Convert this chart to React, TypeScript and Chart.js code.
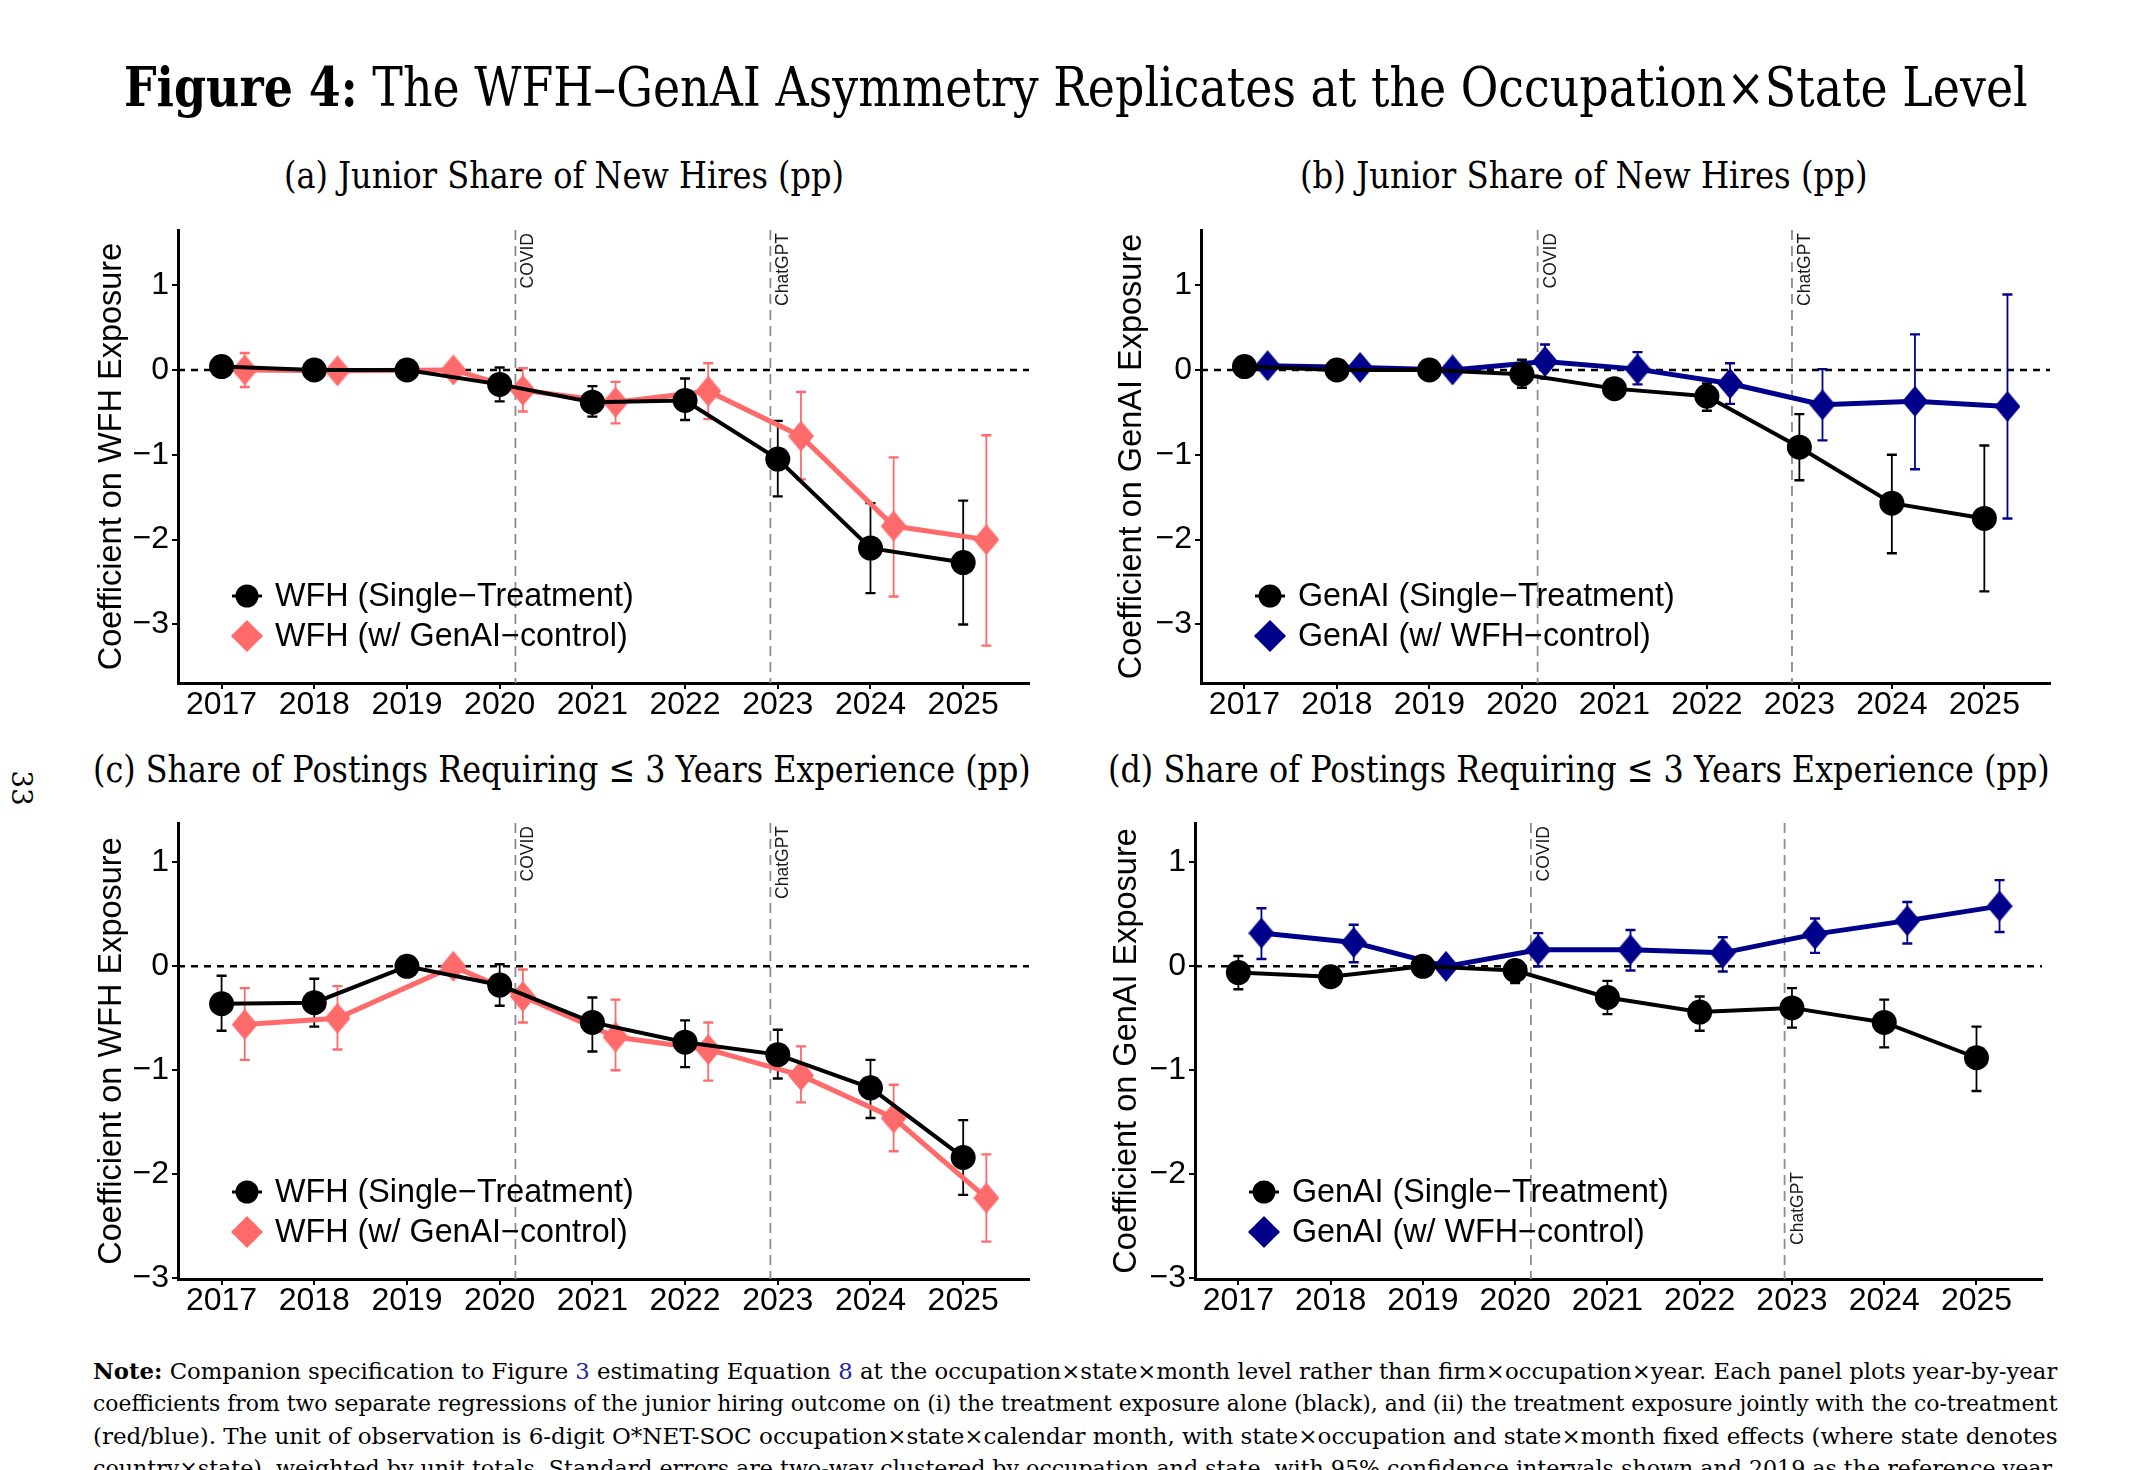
import React, { useEffect, useLayoutEffect, useRef } from 'react';
import { Chart, registerables } from 'chart.js';

Chart.register(...registerables);

// ---------------- data ----------------
const YEARS = [2017, 2018, 2019, 2020, 2021, 2022, 2023, 2024, 2025];
const X_DODGE_WIDE = [2017.25, 2018.25, 2019.5, 2020.25, 2021.25, 2022.25, 2023.25, 2024.25, 2025.25];
const X_DODGE = [2017.25, 2018.25, 2019.25, 2020.25, 2021.25, 2022.25, 2023.25, 2024.25, 2025.25];
const Y_TICKS = [-3, -2, -1, 0, 1];
const COVID_X = 2020.17;
const CHATGPT_X = 2022.92;

// (a) WFH, junior share of new hires
const A_SINGLE = [0.04, 0.0, 0.0, -0.17, -0.38, -0.36, -1.05, -2.1, -2.27];
const A_SINGLE_LO = [-0.02, -0.05, 0.0, -0.37, -0.55, -0.59, -1.49, -2.63, -3.0];
const A_SINGLE_HI = [0.1, 0.05, 0.0, 0.03, -0.19, -0.1, -0.6, -1.57, -1.54];
const A_CTRL = [0.0, -0.01, 0.0, -0.24, -0.38, -0.25, -0.78, -1.84, -2.0];
const A_CTRL_LO = [-0.2, -0.06, -0.03, -0.49, -0.63, -0.58, -1.29, -2.67, -3.25];
const A_CTRL_HI = [0.2, 0.04, 0.03, 0.02, -0.14, 0.08, -0.26, -1.03, -0.77];

// (b) GenAI, junior share of new hires
const B_SINGLE = [0.04, 0.0, 0.0, -0.05, -0.22, -0.31, -0.91, -1.57, -1.75];
const B_SINGLE_LO = [0.0, -0.04, 0.0, -0.21, -0.27, -0.48, -1.3, -2.16, -2.61];
const B_SINGLE_HI = [0.08, 0.04, 0.0, 0.12, -0.17, -0.16, -0.52, -1.0, -0.89];
const B_CTRL = [0.05, 0.03, 0.0, 0.1, 0.01, -0.16, -0.41, -0.37, -0.43];
const B_CTRL_LO = [0.0, -0.02, 0.0, -0.1, -0.17, -0.4, -0.83, -1.17, -1.75];
const B_CTRL_HI = [0.1, 0.08, 0.0, 0.3, 0.21, 0.08, 0.01, 0.42, 0.89];

// (c) WFH, share of postings requiring <= 3 years
const C_SINGLE = [-0.36, -0.35, 0.0, -0.18, -0.54, -0.73, -0.85, -1.17, -1.84];
const C_SINGLE_LO = [-0.62, -0.58, 0.0, -0.38, -0.82, -0.97, -1.08, -1.46, -2.2];
const C_SINGLE_HI = [-0.09, -0.12, 0.0, 0.02, -0.3, -0.52, -0.61, -0.9, -1.48];
const C_CTRL = [-0.56, -0.5, 0.0, -0.29, -0.68, -0.8, -1.05, -1.46, -2.23];
const C_CTRL_LO = [-0.9, -0.8, -0.03, -0.54, -1.0, -1.1, -1.31, -1.78, -2.65];
const C_CTRL_HI = [-0.21, -0.19, 0.03, -0.03, -0.32, -0.54, -0.77, -1.14, -1.81];

// (d) GenAI, share of postings requiring <= 3 years
const D_SINGLE = [-0.06, -0.1, 0.0, -0.04, -0.3, -0.44, -0.4, -0.54, -0.88];
const D_SINGLE_LO = [-0.22, -0.14, 0.0, -0.16, -0.46, -0.62, -0.59, -0.78, -1.2];
const D_SINGLE_HI = [0.1, -0.06, 0.0, 0.06, -0.14, -0.29, -0.21, -0.32, -0.58];
const D_CTRL = [0.32, 0.23, 0.0, 0.16, 0.16, 0.13, 0.31, 0.44, 0.58];
const D_CTRL_LO = [0.07, 0.04, 0.0, 0.0, -0.04, -0.05, 0.13, 0.22, 0.33];
const D_CTRL_HI = [0.56, 0.4, 0.0, 0.32, 0.35, 0.28, 0.46, 0.62, 0.83];

// ---------------- styles ----------------
const BLACK = '#000000';
const RED = '#FF6A6A';
const NAVY = '#00008B';
const SANS = '"Liberation Sans", Arial, sans-serif';
const SERIF = '"DejaVu Serif", serif';

type Series = {
  label: string;
  x: number[];
  y: number[];
  lo: number[];
  hi: number[];
  color: string;
  marker: 'circle' | 'diamond';
  lineWidth: number;
};
type EventMark = { x: number; label: string; endY?: number };

type PanelProps = {
  left: number;
  top: number;
  width: number;
  height: number;
  yWidth: number;
  xHeight: number;
  padTop: number;
  padRight: number;
  yMin: number;
  yMax: number;
  yTitle: string;
  series: Series[];
  events: EventMark[];
};

function makeDiamond(w: number, h: number, color: string): HTMLCanvasElement {
  const c = document.createElement('canvas');
  c.width = w;
  c.height = h;
  const g = c.getContext('2d')!;
  g.fillStyle = color;
  g.beginPath();
  g.moveTo(w / 2, 0);
  g.lineTo(w, h / 2);
  g.lineTo(w / 2, h);
  g.lineTo(0, h / 2);
  g.closePath();
  g.fill();
  return c;
}

const fmtY = (v: number) => (v < 0 ? '\u2212' + Math.abs(v) : String(v));

function Panel(p: PanelProps) {
  const ref = useRef<HTMLCanvasElement>(null);
  useEffect(() => {
    const canvas = ref.current;
    if (!canvas) return;
    const datasets = p.series.map((s) => ({
      type: 'line' as const,
      label: s.label,
      data: s.x.map((x, i) => ({ x, y: s.y[i] })),
      borderColor: s.color,
      backgroundColor: s.color,
      borderWidth: s.lineWidth,
      pointStyle: s.marker === 'circle' ? 'circle' : makeDiamond(26, 31, s.color),
      pointRadius: s.marker === 'circle' ? 12.5 : 15,
      pointBorderWidth: 0,
      pointBackgroundColor: s.color,
      pointBorderColor: s.color,
      tension: 0,
      clip: false as const,
    }));

    const decor = {
      id: 'decor',
      beforeDatasetsDraw(chart: any) {
        const { ctx, chartArea: a } = chart;
        const xs = chart.scales.x;
        const ys = chart.scales.y;
        ctx.save();
        // event lines
        ctx.strokeStyle = '#8c8c8c';
        ctx.lineWidth = 1.8;
        ctx.setLineDash([10, 6]);
        for (const ev of p.events) {
          const px = xs.getPixelForValue(ev.x);
          ctx.beginPath();
          ctx.moveTo(px, a.top);
          ctx.lineTo(px, a.bottom);
          ctx.stroke();
        }
        // zero line
        const y0 = ys.getPixelForValue(0);
        ctx.strokeStyle = '#000';
        ctx.lineWidth = 2.5;
        ctx.setLineDash([7, 6]);
        ctx.beginPath();
        ctx.moveTo(a.left, y0);
        ctx.lineTo(a.right, y0);
        ctx.stroke();
        ctx.setLineDash([]);
        // event labels
        ctx.fillStyle = '#1a1a1a';
        ctx.font = '17.5px ' + SANS;
        for (const ev of p.events) {
          const px = xs.getPixelForValue(ev.x);
          const endPx = ev.endY === undefined ? a.top + 3 : ys.getPixelForValue(ev.endY);
          ctx.save();
          ctx.translate(px + 18, endPx);
          ctx.rotate(-Math.PI / 2);
          ctx.textAlign = 'right';
          ctx.textBaseline = 'alphabetic';
          ctx.fillText(ev.label, 0, 0);
          ctx.restore();
        }
        // error bars (drawn in reverse so black is above)
        for (let k = p.series.length - 1; k >= 0; k--) {
          const s = p.series[k];
          ctx.strokeStyle = s.color;
          s.x.forEach((xv, i) => {
            if (s.lo[i] === s.hi[i]) return;
            const px = xs.getPixelForValue(xv);
            const pl = ys.getPixelForValue(s.lo[i]);
            const ph = ys.getPixelForValue(s.hi[i]);
            ctx.lineWidth = 1.8;
            ctx.beginPath();
            ctx.moveTo(px, pl);
            ctx.lineTo(px, ph);
            ctx.stroke();
            ctx.lineWidth = 2.4;
            ctx.beginPath();
            ctx.moveTo(px - 5, pl);
            ctx.lineTo(px + 5, pl);
            ctx.moveTo(px - 5, ph);
            ctx.lineTo(px + 5, ph);
            ctx.stroke();
          });
        }
        ctx.restore();
      },
      afterDraw(chart: any) {
        const { ctx, chartArea: a } = chart;
        ctx.save();
        const cx = a.left + 69;
        p.series.forEach((s, i) => {
          const cy = a.bottom - 87 + i * 40;
          ctx.fillStyle = s.color;
          ctx.strokeStyle = s.color;
          ctx.lineWidth = 3;
          ctx.beginPath();
          ctx.moveTo(cx - 15, cy);
          ctx.lineTo(cx + 15, cy);
          ctx.stroke();
          if (s.marker === 'circle') {
            ctx.beginPath();
            ctx.arc(cx, cy, 11.5, 0, Math.PI * 2);
            ctx.fill();
          } else {
            ctx.beginPath();
            ctx.moveTo(cx, cy - 16);
            ctx.lineTo(cx + 16, cy);
            ctx.lineTo(cx, cy + 16);
            ctx.lineTo(cx - 16, cy);
            ctx.closePath();
            ctx.fill();
          }
          ctx.fillStyle = '#000';
          ctx.font = '32.3px ' + SANS;
          ctx.textAlign = 'left';
          ctx.textBaseline = 'middle';
          ctx.fillText(s.label, a.left + 97, cy + 1);
        });
        ctx.restore();
      },
    };

    const gridCommon = {
      display: true,
      drawOnChartArea: false,
      drawTicks: true,
      tickLength: 6,
      color: '#000',
      lineWidth: 2,
    };
    const borderCommon = { display: true, color: '#000', width: 3 };

    const chart = new Chart(canvas, {
      type: 'line',
      data: { datasets: datasets as any },
      options: {
        responsive: false,
        animation: false,
        devicePixelRatio: 1,
        events: [],
        layout: { padding: { top: p.padTop, right: p.padRight, left: 0, bottom: 0 } },
        plugins: { legend: { display: false }, tooltip: { enabled: false }, title: { display: false } },
        scales: {
          x: {
            type: 'linear',
            min: 2016.53,
            max: 2025.71,
            afterBuildTicks: (s: any) => {
              s.ticks = YEARS.map((v) => ({ value: v }));
            },
            afterFit: (s: any) => {
              s.height = p.xHeight;
            },
            ticks: {
              font: { size: 32, family: SANS, lineHeight: 1 },
              color: '#000',
              padding: 0,
              maxRotation: 0,
              autoSkip: false,
              callback: (v: any) => String(v),
            },
            grid: gridCommon,
            border: borderCommon,
          },
          y: {
            type: 'linear',
            min: p.yMin,
            max: p.yMax,
            afterBuildTicks: (s: any) => {
              s.ticks = Y_TICKS.map((v) => ({ value: v }));
            },
            afterFit: (s: any) => {
              s.width = p.yWidth;
            },
            ticks: {
              font: { size: 32, family: SANS, lineHeight: 1 },
              color: '#000',
              padding: 3,
              callback: (v: any) => fmtY(Number(v)),
            },
            title: {
              display: true,
              text: p.yTitle,
              font: { size: 32.5, family: SANS, lineHeight: 1.2 },
              color: '#000',
              padding: 0,
            },
            grid: gridCommon,
            border: borderCommon,
          },
        },
      } as any,
      plugins: [decor],
    });
    return () => chart.destroy();
  }, []);
  return (
    <canvas
      ref={ref}
      width={p.width}
      height={p.height}
      style={{ position: 'absolute', left: p.left, top: p.top, width: p.width, height: p.height }}
    />
  );
}

function FitText(props: {
  x?: number;
  cx?: number;
  cy: number;
  width: number;
  size: number;
  family?: string;
  children: React.ReactNode;
}) {
  const ref = useRef<HTMLDivElement>(null);
  useLayoutEffect(() => {
    const el = ref.current;
    if (!el) return;
    const w = el.offsetWidth;
    if (w > 0) el.style.transform = `scaleX(${props.width / w})`;
  }, [props.width]);
  const left = props.x !== undefined ? props.x : (props.cx as number) - props.width / 2;
  return (
    <div
      ref={ref}
      style={{
        position: 'absolute',
        left,
        top: props.cy - props.size * 0.6,
        fontFamily: props.family || SERIF,
        fontSize: props.size,
        lineHeight: `${props.size * 1.2}px`,
        whiteSpace: 'nowrap',
        transformOrigin: '0 50%',
        color: '#000',
      }}
    >
      {props.children}
    </div>
  );
}

const LINK = { color: '#2323a3' };

export default function App() {
  const wfhSeries = (y: number[], lo: number[], hi: number[], cy: number[], clo: number[], chi: number[], cx: number[]): Series[] => [
    { label: 'WFH (Single\u2212Treatment)', x: YEARS, y, lo, hi, color: BLACK, marker: 'circle', lineWidth: 4 },
    { label: 'WFH (w/ GenAI\u2212control)', x: cx, y: cy, lo: clo, hi: chi, color: RED, marker: 'diamond', lineWidth: 5 },
  ];
  const genSeries = (y: number[], lo: number[], hi: number[], cy: number[], clo: number[], chi: number[], cx: number[]): Series[] => [
    { label: 'GenAI (Single\u2212Treatment)', x: YEARS, y, lo, hi, color: BLACK, marker: 'circle', lineWidth: 4 },
    { label: 'GenAI (w/ WFH\u2212control)', x: cx, y: cy, lo: clo, hi: chi, color: NAVY, marker: 'diamond', lineWidth: 5 },
  ];
  const topEvents: EventMark[] = [
    { x: COVID_X, label: 'COVID' },
    { x: CHATGPT_X, label: 'ChatGPT' },
  ];
  const dEvents: EventMark[] = [
    { x: COVID_X, label: 'COVID' },
    { x: CHATGPT_X, label: 'ChatGPT', endY: -1.98 },
  ];

  return (
    <div style={{ position: 'absolute', left: 0, top: 0, width: 2150, height: 1470, overflow: 'hidden', background: '#fff' }}>
      <FitText cx={1075.5} cy={87} width={1904} size={54}>
        <b>Figure 4:</b> The WFH–GenAI Asymmetry Replicates at the Occupation×State Level
      </FitText>
      <FitText cx={564} cy={176} width={560} size={38}>
        (a) Junior Share of New Hires (pp)
      </FitText>
      <FitText cx={1584} cy={176} width={568} size={38}>
        (b) Junior Share of New Hires (pp)
      </FitText>
      <FitText cx={562} cy={770} width={938} size={38}>
        (c) Share of Postings Requiring ≤ 3 Years Experience (pp)
      </FitText>
      <FitText cx={1579} cy={770} width={942} size={38}>
        (d) Share of Postings Requiring ≤ 3 Years Experience (pp)
      </FitText>

      <div
        style={{
          position: 'absolute',
          left: 21 - 25,
          top: 788 - 17,
          width: 50,
          height: 34,
          lineHeight: '34px',
          textAlign: 'center',
          fontFamily: SERIF,
          fontSize: 28,
          transform: 'rotate(90deg)',
          color: '#000',
        }}
      >
        33
      </div>

      <Panel
        left={93}
        top={211}
        width={951}
        height={522}
        yWidth={85}
        xHeight={50}
        padTop={16}
        padRight={10}
        yMin={-3.69}
        yMax={1.65}
        yTitle="Coefficient on WFH Exposure"
        series={wfhSeries(A_SINGLE, A_SINGLE_LO, A_SINGLE_HI, A_CTRL, A_CTRL_LO, A_CTRL_HI, X_DODGE_WIDE)}
        events={topEvents}
      />
      <Panel
        left={1113}
        top={211}
        width={952}
        height={522}
        yWidth={88}
        xHeight={50}
        padTop={16}
        padRight={10}
        yMin={-3.69}
        yMax={1.65}
        yTitle="Coefficient on GenAI Exposure"
        series={genSeries(B_SINGLE, B_SINGLE_LO, B_SINGLE_HI, B_CTRL, B_CTRL_LO, B_CTRL_HI, X_DODGE)}
        events={topEvents}
      />
      <Panel
        left={93}
        top={804}
        width={951}
        height={525}
        yWidth={85}
        xHeight={50}
        padTop={16}
        padRight={10}
        yMin={-3.01}
        yMax={1.38}
        yTitle="Coefficient on WFH Exposure"
        series={wfhSeries(C_SINGLE, C_SINGLE_LO, C_SINGLE_HI, C_CTRL, C_CTRL_LO, C_CTRL_HI, X_DODGE_WIDE)}
        events={topEvents}
      />
      <Panel
        left={1108}
        top={804}
        width={949}
        height={525}
        yWidth={87}
        xHeight={50}
        padTop={16}
        padRight={10}
        yMin={-3.01}
        yMax={1.38}
        yTitle="Coefficient on GenAI Exposure"
        series={genSeries(D_SINGLE, D_SINGLE_LO, D_SINGLE_HI, D_CTRL, D_CTRL_LO, D_CTRL_HI, X_DODGE)}
        events={dEvents}
      />

      <FitText x={93} cy={1371.5} width={1964} size={22.5}>
        <b>Note:</b> Companion specification to Figure <span style={LINK}>3</span> estimating Equation{' '}
        <span style={LINK}>8</span> at the occupation×state×month level rather than firm×occupation×year. Each panel plots year-by-year
      </FitText>
      <FitText x={93} cy={1403.8} width={1964} size={22.5}>
        coefficients from two separate regressions of the junior hiring outcome on (i) the treatment exposure alone (black), and (ii) the treatment exposure jointly with the co-treatment
      </FitText>
      <FitText x={93} cy={1436.1} width={1964} size={22.5}>
        (red/blue). The unit of observation is 6-digit O*NET-SOC occupation×state×calendar month, with state×occupation and state×month fixed effects (where state denotes
      </FitText>
      <FitText x={93} cy={1468.4} width={1964} size={22.5}>
        country×state), weighted by unit totals. Standard errors are two-way clustered by occupation and state, with 95% confidence intervals shown and 2019 as the reference year.
      </FitText>
    </div>
  );
}
